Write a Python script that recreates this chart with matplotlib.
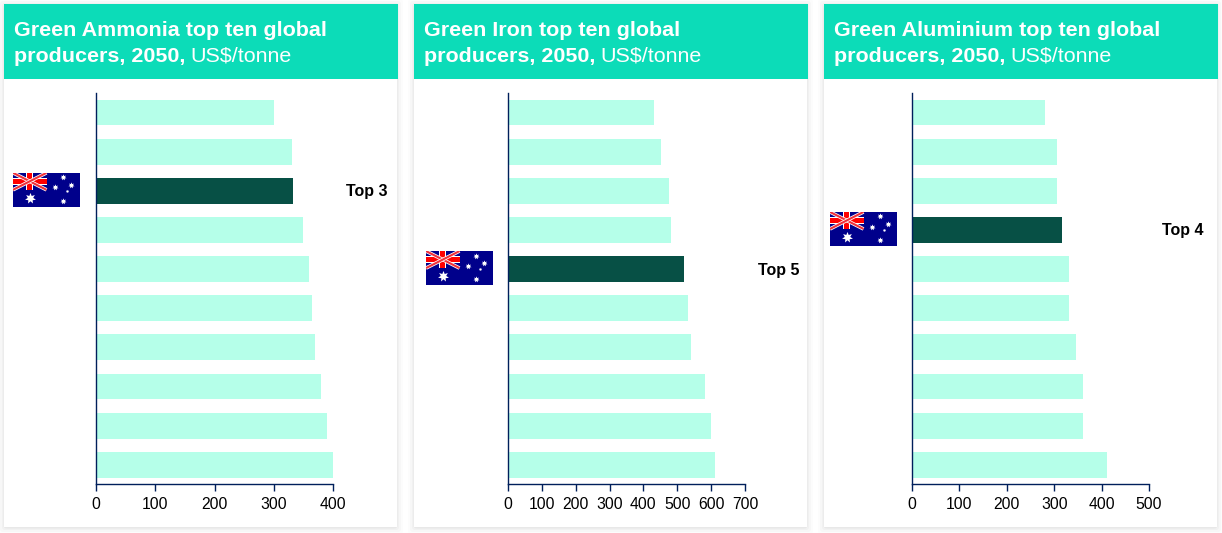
import matplotlib
matplotlib.use("Agg")
import matplotlib.pyplot as plt
from matplotlib.patches import Rectangle, FancyBboxPatch

plt.rcParams['font.family'] = ['Liberation Sans', 'DejaVu Sans']

W, H = 1222, 533

titles_line1 = ["Green Ammonia top ten global", "Green Iron top ten global", "Green Aluminium top ten global"]
title_bold2 = "producers, 2050,"
title_unit = "US$/tonne"

ammonia = [300, 330, 332, 350, 360, 365, 370, 380, 390, 400]
iron = [430, 453, 475, 480, 520, 533, 540, 583, 600, 610]
aluminium = [280, 305, 305, 316, 332, 332, 345, 360, 360, 411]
series = [ammonia, iron, aluminium]
aus_rank = [3, 5, 4]
x_max = [400, 700, 500]
x_step = [100, 100, 100]

LIGHT, DARK, TEAL, NAVY = "#b5ffe9", "#075045", "#0cdcb8", "#001f5b"

card_x = [4, 414, 824]
card_w = 393
axes_x = [(96, 333), (508, 745), (912, 1149)]
flag_x = [13, 426, 830]
label_right = [387, 799, 1204]
AX_TOP, AX_BOTTOM = 93, 484.3

fig = plt.figure(figsize=(W / 100, H / 100), dpi=100, facecolor="white")
bg = fig.add_axes([0, 0, 1, 1], zorder=0)
bg.set_xlim(0, W); bg.set_ylim(H, 0); bg.axis("off")


def ax_rect(x0, x1, ytop, ybot):
    return [x0 / W, 1 - ybot / H, (x1 - x0) / W, (ybot - ytop) / H]


def draw_flag(x, y, w=67, h=34):
    a = fig.add_axes(ax_rect(x, x + w, y, y + h), zorder=5)
    a.set_xlim(0, 2); a.set_ylim(1, 0); a.axis("off")
    a.add_patch(Rectangle((0, 0), 2, 1, color="#00008b", lw=0))
    cw, ch = 1.0, 0.5
    for seg in [((0, 0), (cw, ch)), ((0, ch), (cw, 0))]:
        a.plot(*zip(*seg), color="white", lw=2.6, solid_capstyle="butt")
        a.plot(*zip(*seg), color="#f0303a", lw=1.5, solid_capstyle="butt")
    a.add_patch(Rectangle((cw / 2 - 0.105, 0), 0.21, ch, color="white", lw=0))
    a.add_patch(Rectangle((0, ch / 2 - 0.105), cw, 0.21, color="white", lw=0))
    a.add_patch(Rectangle((cw / 2 - 0.07, 0), 0.14, ch, color="#ff0000", lw=0))
    a.add_patch(Rectangle((0, ch / 2 - 0.07), cw, 0.14, color="#ff0000", lw=0))
    a.plot([0.5], [0.74], marker=(7, 1), ms=8, color="white", mew=0)
    for sx, sy, ms in [(1.49, 0.13, 4.5), (1.25, 0.43, 4.5), (1.72, 0.36, 4.5),
                       (1.49, 0.82, 4.5), (1.6, 0.54, 2.5)]:
        a.plot([sx], [sy], marker=(7, 1), ms=ms, color="white", mew=0)


for i in range(3):
    cx = card_x[i]
    # soft card shadow
    for grow, alpha in [(7, 0.012), (5, 0.018), (3, 0.025), (1.5, 0.035)]:
        bg.add_patch(FancyBboxPatch((cx - grow + 1, 4 - grow + 2), card_w + 2 * grow - 2, 523 + 2 * grow - 2,
                                    boxstyle="round,pad=0,rounding_size=3", fc="black", ec="none", alpha=alpha))
    bg.add_patch(Rectangle((cx, 4), card_w, 523, fc="white", ec="none", zorder=2))
    bg.add_patch(Rectangle((cx - 0.5, 4), card_w + 1, 75, fc=TEAL, ec="none", zorder=3))

    bg.text(cx + 10, 35.5, titles_line1[i], color="white", fontsize=15.45, fontweight="bold",
            va="baseline", ha="left", zorder=4)
    t = bg.text(cx + 10, 61.5, title_bold2, color="white", fontsize=15.45, fontweight="bold",
                va="baseline", ha="left", zorder=4)
    fig.canvas.draw()
    bb = t.get_window_extent(fig.canvas.get_renderer())
    bg.text(bb.x1 + 5, 61.5, title_unit, color="white", fontsize=15.45, va="baseline", ha="left", zorder=4)

    ax = fig.add_axes(ax_rect(axes_x[i][0], axes_x[i][1], AX_TOP, AX_BOTTOM), zorder=4)
    ax.patch.set_alpha(0)
    vals = series[i]
    ypos = list(range(len(vals)))
    colors = [DARK if k == aus_rank[i] - 1 else LIGHT for k in ypos]
    ax.barh(ypos, vals, height=0.66, color=colors, linewidth=0)
    ax.set_ylim(len(vals) - 0.5, -0.5)
    ax.set_xlim(0, x_max[i])
    ax.set_xticks(list(range(0, x_max[i] + 1, x_step[i])))
    ax.set_yticks([])
    ax.tick_params(axis="x", length=5, width=1, color=NAVY, labelsize=11.3, pad=4, labelcolor="black")
    for s in ("top", "right"):
        ax.spines[s].set_visible(False)
    for s in ("left", "bottom"):
        ax.spines[s].set_color(NAVY)
        ax.spines[s].set_linewidth(1)

    r = aus_rank[i] - 1
    yc = AX_TOP + (r + 0.5) * (AX_BOTTOM - AX_TOP) / len(vals)
    bg.text(label_right[i], yc + 1, f"Top {aus_rank[i]}", fontsize=11.5, fontweight="bold",
            color="black", ha="right", va="center", zorder=4)
    draw_flag(flag_x[i], yc - 18)

fig.savefig("out.png", dpi=100, facecolor="white")
